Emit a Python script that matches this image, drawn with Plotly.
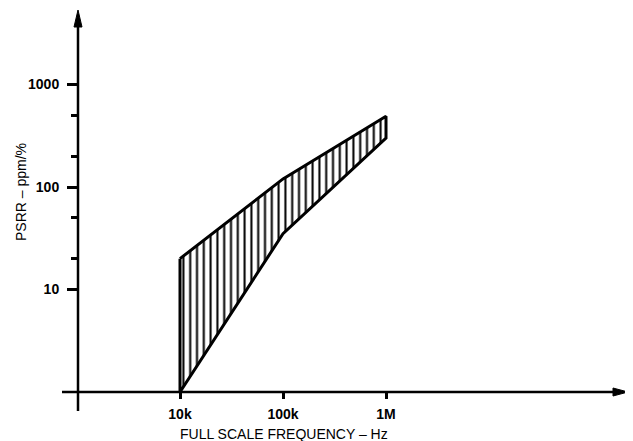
import plotly.graph_objects as go

# ---- data ----
freq_hz = [1e4, 1e5, 1e6]
psrr_upper = [20, 120, 490]
psrr_lower = [1, 35, 300]

x_tick_vals = [1e4, 1e5, 1e6]
x_tick_text = ["10k", "100k", "1M"]
y_tick_vals = [10, 100, 1000]
y_tick_text = ["10", "100", "1000"]
y_minor_vals = [20, 50, 200, 500]

# ---- layout geometry ----
# the page body adds an 8px margin, so the figure is shifted by OFF px
OFF = 8
W, H = 633 - OFF, 441 - OFF
# plot area in window pixels: left 78, right 628, top 10, bottom 392
L = 78 - OFF
R = W - (628 - OFF)
T = 10 - OFF
B = H - (392 - OFF)
PW, PH = W - L - R, H - T - B

def px(p):  # window pixel x -> paper
    return (p - OFF - L) / PW

def py(q):  # window pixel y -> paper
    return (H - B - (q - OFF)) / PH

poly_x = freq_hz + freq_hz[::-1] + [freq_hz[0]]
poly_y = psrr_upper + psrr_lower[::-1] + [psrr_upper[0]]

fig = go.Figure()
fig.add_trace(go.Scatter(
    x=poly_x, y=poly_y, mode="lines", fill="toself",
    line=dict(color="black", width=3),
    fillcolor="rgba(0,0,0,0)",
    fillpattern=dict(shape="|", size=6.8, solidity=0.3,
                     fgcolor="black", bgcolor="white", fgopacity=1),
    cliponaxis=False, showlegend=False, hoverinfo="skip",
))

font_fam = "Liberation Sans, Arial, Helvetica, sans-serif"

# x: 10k at 180px, decade = 103px ; y: value 1 at 392px, decade = 102.5px
xr0 = 4 + (78 - 180) / 103.0
xr1 = 4 + (628 - 180) / 103.0
yr0 = 0.0
yr1 = (392 - 10) / 102.5

fig.update_xaxes(
    type="log", range=[xr0, xr1],
    showgrid=False, zeroline=False, showline=False,
    tickmode="array", tickvals=x_tick_vals, ticktext=x_tick_text,
    ticks="outside", ticklen=6, tickwidth=2.5, tickcolor="black",
    tickfont=dict(family=font_fam, size=14, color="black", weight="bold"),
    ticklabelstandoff=3,
)
fig.update_yaxes(
    type="log", range=[yr0, yr1],
    showgrid=False, zeroline=False, showline=False,
    tickmode="array", tickvals=y_tick_vals, ticktext=y_tick_text,
    ticks="outside", ticklen=10, tickwidth=2.5, tickcolor="black",
    tickfont=dict(family=font_fam, size=14, color="black", weight="bold"),
    ticklabelstandoff=5,
    minor=dict(tickvals=y_minor_vals, ticks="outside", ticklen=6,
               tickwidth=2.5, tickcolor="black"),
)

shapes = [
    dict(type="line", xref="paper", yref="paper",
         x0=px(62), y0=py(392), x1=px(616), y1=py(392),
         line=dict(color="black", width=2.5)),
    dict(type="line", xref="paper", yref="paper",
         x0=px(78), y0=py(411), x1=px(78), y1=py(24),
         line=dict(color="black", width=2.5)),
    dict(type="path", xref="paper", yref="paper",
         path=f"M {px(628)} {py(392)} L {px(613)} {py(388)} L {px(613)} {py(396)} Z",
         fillcolor="black", line=dict(color="black", width=1)),
    dict(type="path", xref="paper", yref="paper",
         path=f"M {px(78)} {py(10)} L {px(74)} {py(27)} L {px(82)} {py(27)} Z",
         fillcolor="black", line=dict(color="black", width=1)),
]

annotations = [
    dict(text="FULL SCALE FREQUENCY – Hz", xref="paper", yref="paper",
         x=px(284), y=py(434), showarrow=False, xanchor="center", yanchor="middle",
         font=dict(family=font_fam, size=14, color="black")),
    dict(text="PSRR – ppm/%", xref="paper", yref="paper",
         x=px(21), y=py(192), showarrow=False, xanchor="center", yanchor="middle",
         textangle=-90, font=dict(family=font_fam, size=14, color="black")),
]

fig.update_layout(
    width=W, height=H,
    margin=dict(l=L, r=R, t=T, b=B, pad=0),
    paper_bgcolor="white", plot_bgcolor="white",
    shapes=shapes, annotations=annotations,
    showlegend=False,
)

fig.write_html("out.html")
